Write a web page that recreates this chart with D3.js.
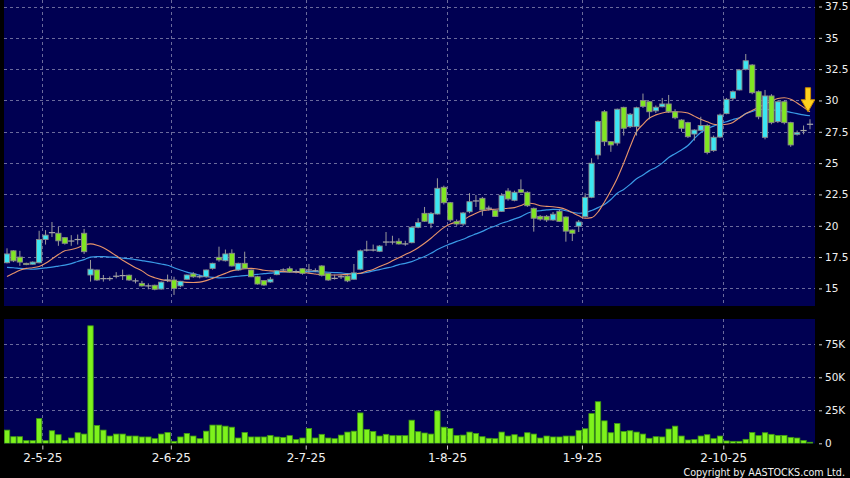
<!DOCTYPE html>
<html><head><meta charset="utf-8">
<script src="https://cdn.jsdelivr.net/npm/d3@7"></script>
<style>html,body{margin:0;padding:0;background:#000;}svg{display:block;}</style>
</head><body><svg id="c" width="850" height="478"></svg>
<script>
// ---- data (daily bars, Apr-Oct 2025) ----
const openP = [17.05,18.0,17.5,17.0,16.93,17.05,18.9,19.45,19.4,19.05,18.78,18.9,19.4,16.07,16.47,15.78,15.78,15.97,16.02,16.05,
15.6,15.4,15.2,15.25,14.95,15.67,15.67,15.2,15.73,16.15,15.93,15.93,16.6,17.48,17.21,17.8,16.47,17.0,16.47,15.93,
15.62,15.51,16.1,16.47,16.57,16.34,16.57,16.47,16.41,16.79,16.2,15.8,15.93,15.99,15.73,16.53,18.06,18.06,17.96,18.7,
18.7,18.76,18.55,18.65,19.88,20.99,20.2,20.94,23.07,21.84,20.33,20.14,21.12,21.98,22.19,21.4,21.24,21.15,22.77,22.03,
22.88,22.67,21.39,20.75,20.75,20.46,21.15,20.7,19.66,19.97,20.73,22.27,25.65,29.1,26.71,26.6,29.45,27.91,27.91,30.0,
29.9,29.17,29.5,29.72,29.1,28.44,28.23,27.32,27.62,28.0,26.0,27.08,28.95,30.17,30.84,32.49,32.83,30.7,27.06,30.36,
28.31,29.9,28.23,27.3,27.6,28.1];
const highP = [18.2,18.05,18.0,17.05,17.15,19.6,19.65,20.3,19.9,19.1,19.25,19.3,19.75,17.27,16.5,16.07,15.95,16.3,16.5,16.1,
15.8,15.6,15.4,15.3,15.55,16.1,15.93,15.6,16.1,16.3,16.1,16.5,17.05,18.33,18.1,18.12,17.05,17.93,16.5,16.0,
15.65,15.9,16.45,16.6,16.75,16.5,16.6,16.95,16.6,16.85,16.25,16.1,16.1,16.05,16.95,18.1,18.8,18.5,18.45,19.5,
19.2,19.0,18.8,19.95,20.6,21.5,21.1,23.79,23.2,21.9,20.5,21.1,22.6,22.45,22.3,21.6,21.3,22.6,23.0,22.8,
23.7,22.75,21.45,20.85,20.85,21.1,21.25,20.75,19.7,20.45,22.59,25.39,28.4,29.24,26.75,29.35,29.5,29.0,29.5,30.55,
29.95,29.6,30.2,30.44,29.3,28.5,28.3,27.7,28.7,28.1,27.2,28.95,30.2,30.8,32.5,33.71,32.9,30.8,30.84,30.5,
30.0,30.0,28.3,27.6,28.0,28.5];
const lowP = [17.0,17.1,16.8,16.85,16.9,17.0,18.5,19.1,18.4,18.5,18.4,18.5,17.75,15.54,15.6,15.54,15.6,15.8,15.67,15.6,
15.4,15.15,14.93,14.85,14.9,15.5,14.48,15.1,15.7,15.85,15.8,15.85,16.5,17.13,17.15,16.75,16.4,16.55,15.9,15.3,
15.2,15.45,16.05,16.35,16.25,16.2,16.1,16.2,16.3,15.95,15.6,15.7,15.75,15.5,15.7,16.45,17.95,17.95,17.9,18.4,
18.5,18.5,18.4,18.6,19.8,20.3,19.8,20.9,21.7,20.3,20.0,20.0,21.0,21.5,20.8,21.2,20.7,21.1,22.0,21.95,
22.6,21.5,19.53,20.4,20.3,20.4,20.3,18.73,18.78,19.5,20.65,22.2,25.3,26.37,25.9,26.4,27.2,27.8,27.2,29.4,
28.5,29.0,29.45,29.0,28.5,27.5,27.0,26.8,27.55,25.7,25.9,27.0,28.9,30.0,30.8,32.4,30.5,28.5,26.9,28.1,
28.2,28.1,26.3,27.2,27.3,27.7];
const closeP = [17.75,17.2,17.1,16.9,17.1,18.9,19.25,19.45,18.8,18.6,18.78,18.9,17.93,16.53,15.67,15.78,15.78,15.97,16.02,15.67,
15.6,15.2,15.2,14.93,15.5,15.67,15.0,15.57,16.07,15.93,15.93,16.47,17.0,17.27,17.75,16.79,17.0,16.6,15.93,15.35,
15.27,15.73,16.41,16.47,16.31,16.34,16.2,16.47,16.41,16.05,15.67,15.8,15.93,15.6,16.24,18.0,18.06,18.06,18.38,18.7,
18.7,18.55,18.55,19.88,20.25,20.36,20.99,22.99,21.84,20.46,20.14,21.02,21.92,21.98,21.26,21.4,20.75,22.43,22.14,22.67,
22.67,21.6,20.6,20.53,20.46,20.92,20.35,19.57,19.4,20.3,22.27,24.99,28.33,26.71,26.45,29.3,27.78,28.9,29.42,29.53,
29.1,29.46,29.72,29.1,28.62,27.78,27.11,27.64,28.0,25.85,27.06,28.84,30.09,30.7,32.43,33.17,30.62,28.7,30.36,28.23,
29.9,28.23,26.45,27.43,27.6,28.1];
// volume in thousands of shares
const volumeK = [10,5,5,2,2,18.7,2,9.5,6.5,2, 4,8,7,89,13.5,10,5.5,7,7,5.5,
5.5,4.8,4.8,3.5,7,8.2,1.5,4.8,7.5,5.5, 3.5,9.2,13.8,13.8,13,12.2,4,8.2,4.8,4.8,
4.8,6,4.8,4.5,5.8,2.8,4,11.2,4,6.8, 4,3.5,6.2,8.5,9.2,23,10.5,9,5.5,6.8,
5.8,5.8,5.8,17.5,8.8,7.8,7,24.5,12.2,11.2, 6,6.2,8.5,7.5,5,3.8,3.5,8.5,5.5,6.5,
4.8,8,7,4,5.5,4.8,4.8,5.5,5.5,9.8, 11,22.5,31.5,17,8,15,9,9.5,8.5,7,
3.8,5,4.8,10.8,13,5.5,2.5,2.8,5.5,6.5, 3.5,5.5,1.8,1.5,1.5,3,8.2,5.8,8,6.8,
6,6,4.5,4,2.2,0.8];
// moving averages
const maShort = [15.95,16.2,16.45,16.6,16.65,16.75,17.0,17.35,17.7,18.0,18.1,18.25,18.45,18.55,18.45,18.25,17.95,17.6,17.25,16.95,
16.65,16.4,16.05,15.85,15.7,15.62,15.58,15.52,15.48,15.47,15.5,15.62,15.8,16.0,16.2,16.4,16.5,16.58,16.6,16.55,
16.45,16.4,16.36,16.34,16.32,16.3,16.27,16.22,16.15,16.08,16.07,16.07,16.08,16.12,16.18,16.2,16.38,16.5,16.75,16.95,
17.2,17.45,17.7,17.95,18.25,18.6,19.0,19.45,19.85,20.14,20.3,20.46,20.75,21.0,21.2,21.28,21.32,21.36,21.4,21.45,
21.62,21.82,21.75,21.6,21.55,21.52,21.45,21.3,21.05,20.8,20.6,20.65,21.1,21.9,22.8,23.8,25.0,26.3,27.5,28.1,
28.6,28.85,29.0,29.08,29.1,29.08,29.0,28.75,28.5,28.3,28.1,28.04,28.1,28.25,28.6,28.95,29.2,29.45,29.7,29.95,
30.15,30.22,30.1,29.8,29.45,29.1];
const maLong = [16.68,16.65,16.6,16.56,16.53,16.58,16.64,16.7,16.78,16.86,16.98,17.15,17.3,17.5,17.53,17.53,17.5,17.48,17.42,17.38,
17.3,17.22,17.14,17.05,16.95,16.85,16.65,16.47,16.3,16.18,16.05,15.95,15.88,15.84,15.85,15.92,15.97,16.02,16.07,16.12,
16.18,16.22,16.27,16.31,16.33,16.34,16.34,16.34,16.34,16.32,16.29,16.26,16.24,16.18,16.17,16.2,16.27,16.4,16.5,16.62,
16.73,16.9,17.0,17.14,17.35,17.55,17.8,18.1,18.35,18.55,18.75,18.92,19.15,19.35,19.55,19.8,19.98,20.2,20.36,20.55,
20.73,21.0,21.14,21.2,21.26,21.3,21.28,21.2,21.08,21.0,21.05,21.22,21.45,21.7,22.1,22.6,22.9,23.3,23.75,24.05,
24.4,24.65,25.0,25.45,25.75,26.05,26.4,26.95,27.45,27.75,27.95,28.15,28.3,28.48,28.62,28.95,29.12,29.28,29.3,29.25,
29.2,29.15,29.05,28.95,28.85,28.78];
const priceTicks = [15,17.5,20,22.5,25,27.5,30,32.5,35,37.5];
const volumeTicks = [0,25,50,75];
const monthTickIndex = [6,26,47,69,90,112];
const monthTickLabels = ["2-5-25","2-6-25","2-7-25","1-8-25","1-9-25","2-10-25"];

// ---- layout ----
const svg = d3.select("#c");
const N = closeP.length;
const plotL = 4, plotR = 815;
const pTop = 0, pBot = 306;
const vTop = 319, vBot = 443.5;
const x = d3.scaleLinear().domain([0, N]).range([3.8, 813.2]);
const step = x(1) - x(0);
const xc = i => x(i + 0.5);
const y = d3.scaleLinear().domain([15, 37.5]).range([288.4, 6.5]);
const yv = d3.scaleLinear().domain([0, 75]).range([443.3, 344.3]);

const NAVY = "#000052", GRID = "#6a6a9c";
const UP = "#3ce6f2", DOWN = "#80e622", EDGE = "#8a8a8a";
const FONT = "DejaVu Sans, Verdana, sans-serif";

svg.append("rect").attr("width", 850).attr("height", 478).attr("fill", "#000");
svg.append("rect").attr("x", plotL).attr("y", pTop).attr("width", plotR - plotL).attr("height", pBot - pTop).attr("fill", NAVY);
svg.append("rect").attr("x", plotL).attr("y", vTop).attr("width", plotR - plotL).attr("height", vBot - vTop).attr("fill", NAVY);

const defs = svg.append("defs");
defs.append("clipPath").attr("id", "cp").append("rect").attr("x", plotL).attr("y", pTop).attr("width", plotR - plotL).attr("height", pBot - pTop);
defs.append("clipPath").attr("id", "cv").append("rect").attr("x", plotL).attr("y", vTop).attr("width", plotR - plotL).attr("height", vBot - vTop);

// grid lines
const gP = svg.append("g").attr("clip-path", "url(#cp)");
const gV = svg.append("g").attr("clip-path", "url(#cv)");
const snap = v => Math.round(v) + 0.5;
gP.selectAll(".hg").data(priceTicks).join("line")
  .attr("x1", plotL).attr("x2", plotR).attr("y1", d => snap(y(d))).attr("y2", d => snap(y(d)))
  .attr("stroke", GRID).attr("stroke-dasharray", "3,3");
gP.selectAll(".vg").data(monthTickIndex).join("line")
  .attr("x1", d => snap(x(d))).attr("x2", d => snap(x(d))).attr("y1", pTop).attr("y2", pBot)
  .attr("stroke", GRID).attr("stroke-dasharray", "3,3");
gV.selectAll(".hg").data(volumeTicks.filter(d => d > 0)).join("line")
  .attr("x1", plotL).attr("x2", plotR).attr("y1", d => snap(yv(d))).attr("y2", d => snap(yv(d)))
  .attr("stroke", GRID).attr("stroke-dasharray", "3,3");
gV.selectAll(".vg").data(monthTickIndex).join("line")
  .attr("x1", d => snap(x(d))).attr("x2", d => snap(x(d))).attr("y1", vTop).attr("y2", vBot)
  .attr("stroke", GRID).attr("stroke-dasharray", "3,3");

// moving averages
const idx = d3.range(N);
const line = arr => d3.line().x(i => xc(i)).y(i => y(arr[i])).curve(d3.curveMonotoneX)(idx);
gP.append("path").attr("d", line(maLong)).attr("fill", "none").attr("stroke", "#3a9ae6").attr("stroke-width", 1.2);
gP.append("path").attr("d", line(maShort)).attr("fill", "none").attr("stroke", "#e8946a").attr("stroke-width", 1.1);

// candles
const bw = 5.2;
const cg = gP.append("g");
idx.forEach(i => {
  const cx = xc(i);
  const o = openP[i], c = closeP[i];
  cg.append("line").attr("x1", cx).attr("x2", cx).attr("y1", y(highP[i])).attr("y2", y(lowP[i]))
    .attr("stroke", "#9a9a9a").attr("stroke-width", 1);
  if (Math.abs(o - c) < 0.001) {
    cg.append("line").attr("x1", cx - bw / 2 - 0.5).attr("x2", cx + bw / 2 + 0.5).attr("y1", y(c)).attr("y2", y(c))
      .attr("stroke", "#a8a8a8").attr("stroke-width", 1.2);
  } else {
    const top = y(Math.max(o, c)), bot = y(Math.min(o, c));
    cg.append("rect").attr("x", cx - bw / 2).attr("y", top).attr("width", bw).attr("height", Math.max(1, bot - top))
      .attr("fill", c > o ? UP : DOWN).attr("stroke", EDGE).attr("stroke-width", 0.9);
  }
});

// arrow marker at latest short MA
const tx = xc(N - 1) - 2, ty = y(maShort[N - 1]);
gP.append("path")
  .attr("d", `M${tx - 2.6},${ty - 24} L${tx + 2.6},${ty - 24} L${tx + 2.6},${ty - 12} L${tx + 6.8},${ty - 12} L${tx},${ty} L${tx - 6.8},${ty - 12} L${tx - 2.6},${ty - 12} Z`)
  .attr("fill", "#ffd21e").attr("stroke", "#c98a00").attr("stroke-width", 1);

// volume bars
const vbw = 5.4;
gV.selectAll(".vb").data(idx).join("rect")
  .attr("x", i => xc(i) - vbw / 2).attr("y", i => yv(volumeK[i]))
  .attr("width", vbw).attr("height", i => yv(0) - yv(volumeK[i]))
  .attr("fill", "#7ef21c").attr("stroke", "#3e9a12").attr("stroke-width", 0.8);

// axes
const styleAxis = (g, size) => {
  g.select(".domain").remove();
  g.selectAll("line").attr("stroke", "#cfcfcf");
  g.selectAll("text").attr("fill", "#f0f0f0").attr("font-family", FONT).attr("font-size", size);
};
svg.append("g").attr("transform", "translate(819,0)")
  .call(d3.axisRight(y).tickValues(priceTicks).tickSize(3).tickPadding(3).tickFormat(d => String(d)))
  .call(g => styleAxis(g, "10.5px"));
svg.append("g").attr("transform", "translate(819,0)")
  .call(d3.axisRight(yv).tickValues(volumeTicks).tickSize(3).tickPadding(3).tickFormat(d => d === 0 ? "0" : d + "K"))
  .call(g => styleAxis(g, "10.5px"));
svg.append("g").attr("transform", `translate(0,${vBot + 2})`)
  .call(d3.axisBottom(x).tickValues(monthTickIndex).tickSize(4).tickPadding(4).tickFormat((d, k) => monthTickLabels[k]))
  .call(g => styleAxis(g, "12px"));

svg.append("text").attr("x", 845).attr("y", 476).attr("text-anchor", "end")
  .attr("fill", "#f0f0f0").attr("font-family", FONT).attr("font-size", "9.6px")
  .text("Copyright by AASTOCKS.com Ltd.");
</script></body></html>
